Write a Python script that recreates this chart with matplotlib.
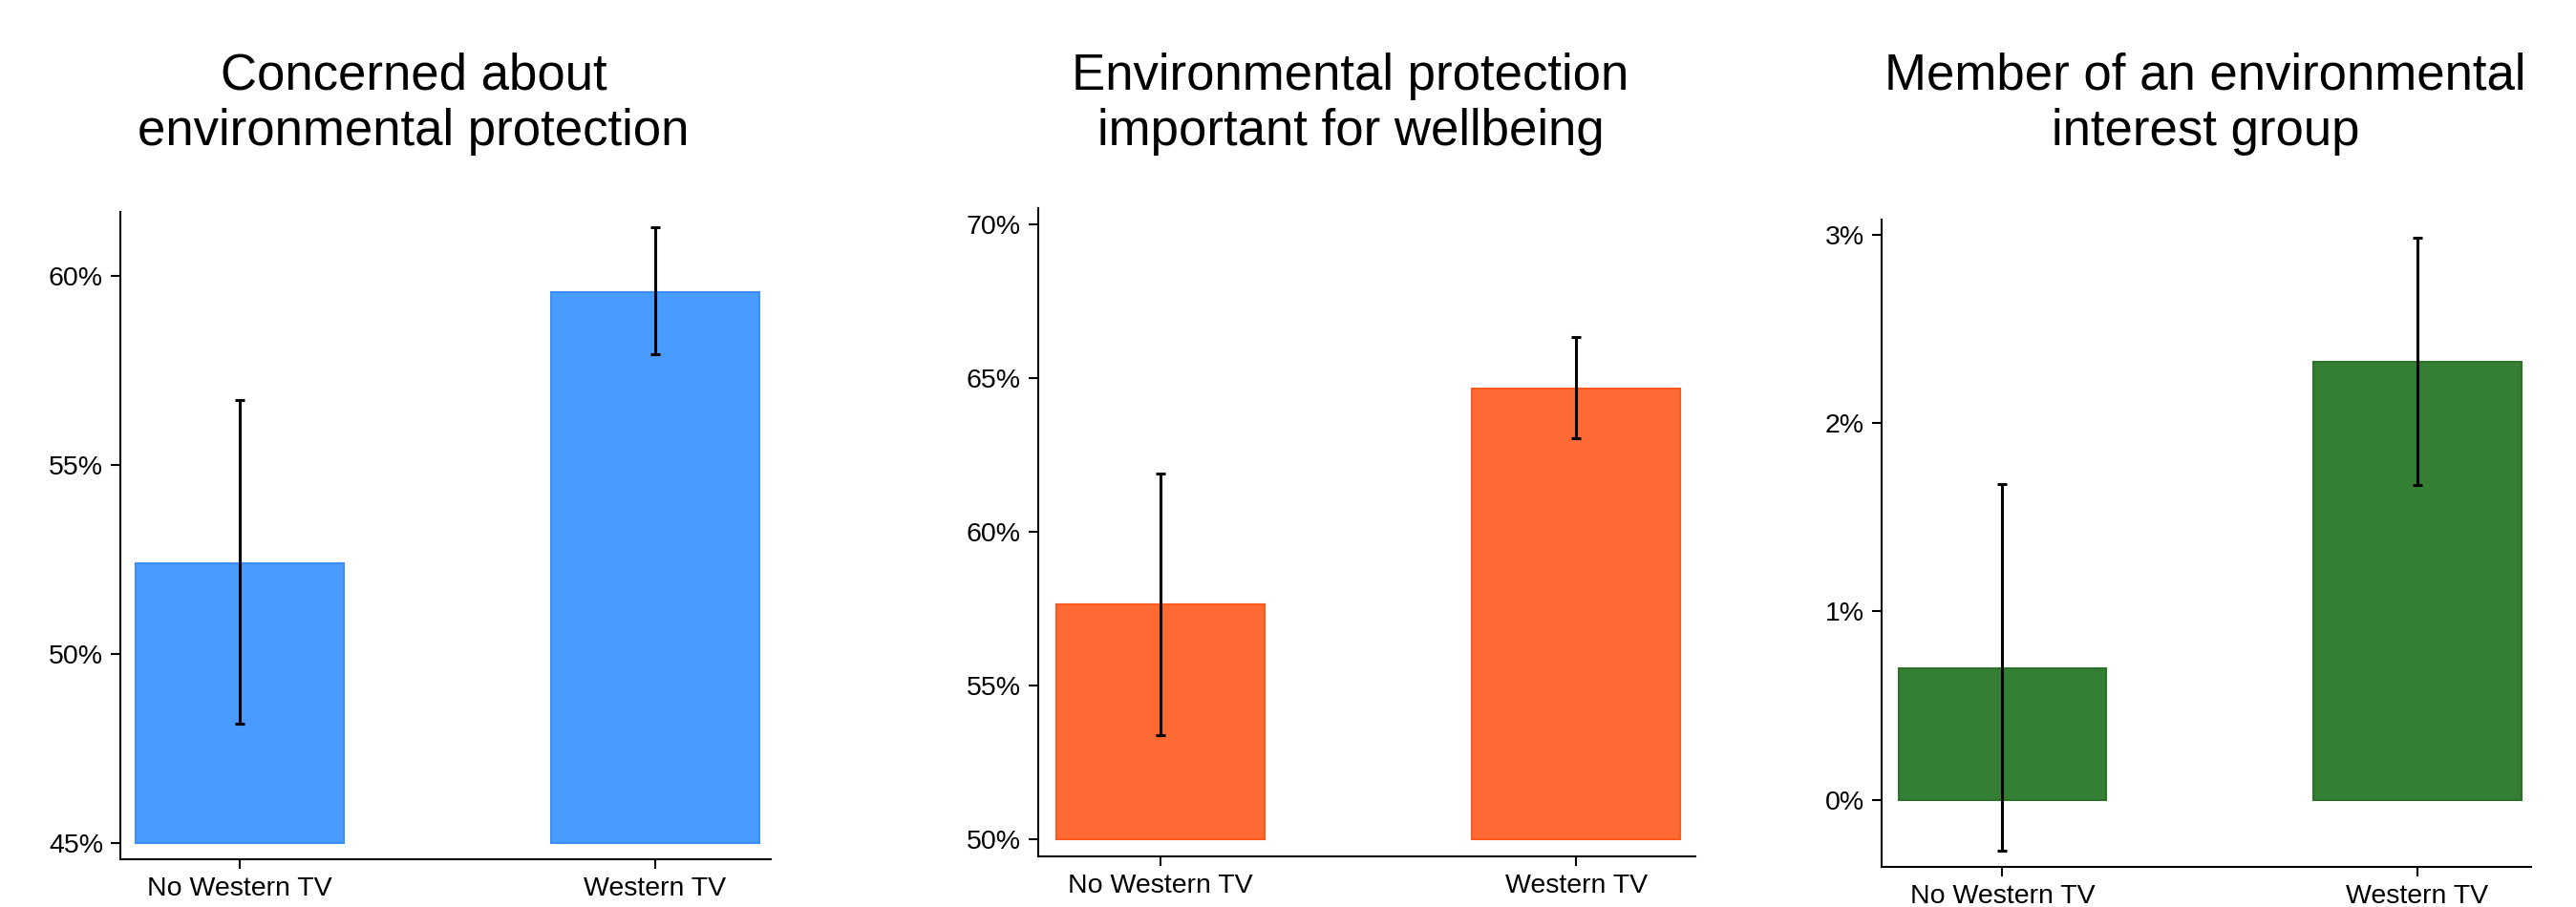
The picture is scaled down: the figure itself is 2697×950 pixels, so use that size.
import matplotlib
matplotlib.use("Agg")
import matplotlib.pyplot as plt
from matplotlib.ticker import FuncFormatter

plt.rcParams['font.family'] = ['Liberation Sans', 'DejaVu Sans']

groups = ["No Western TV", "Western TV"]

titles = [
    "Concerned about\nenvironmental protection",
    "Environmental protection\nimportant for wellbeing",
    "Member of an environmental\ninterest group",
]

# Shares in percent, with lower / upper bounds of the confidence interval
concerned = [52.4, 59.57]
concerned_lo = [48.14, 57.92]
concerned_hi = [56.71, 61.28]

wellbeing = [57.64, 64.66]
wellbeing_lo = [53.39, 63.04]
wellbeing_hi = [61.91, 66.33]

member = [0.70, 2.327]
member_lo = [-0.269, 1.671]
member_hi = [1.676, 2.988]

y_ticks = [
    [45, 50, 55, 60],
    [50, 55, 60, 65, 70],
    [0, 1, 2, 3],
]

panels = [
    dict(vals=concerned, lo=concerned_lo, hi=concerned_hi, base=45,
         fill="#4A9BFE", edge="#3A8EF6", ylim=(44.56, 61.69), xlim=(-0.287, 1.278),
         box=(126, 807, 222, 900), tx=433),
    dict(vals=wellbeing, lo=wellbeing_lo, hi=wellbeing_hi, base=50,
         fill="#FE6A33", edge="#FB5A1C", ylim=(49.45, 70.53), xlim=(-0.294, 1.287),
         box=(1087, 1775, 218, 897), tx=1414),
    dict(vals=member, lo=member_lo, hi=member_hi, base=0,
         fill="#357F34", edge="#2B7228", ylim=(-0.357, 3.082), xlim=(-0.291, 1.274),
         box=(1970, 2650, 230, 908), tx=2309),
]

W, H = 2697, 950
fig = plt.figure(figsize=(W / 100, H / 100), dpi=100)

for p, title, ticks in zip(panels, titles, y_ticks):
    l, r, t, b = p["box"]
    ax = fig.add_axes([l / W, 1 - b / H, (r - l) / W, (b - t) / H])
    x = list(range(len(groups)))
    heights = [v - p["base"] for v in p["vals"]]
    ax.bar(x, heights, bottom=p["base"], width=0.5, color=p["fill"],
           edgecolor=p["edge"], linewidth=1.5, zorder=2)
    yerr = [[v - lo for v, lo in zip(p["vals"], p["lo"])],
            [hi - v for v, hi in zip(p["vals"], p["hi"])]]
    ax.errorbar(x, p["vals"], yerr=yerr, fmt="none", ecolor="black",
                elinewidth=2.2, capsize=3.5, capthick=2.2, zorder=3)
    ax.set_xlim(*p["xlim"])
    ax.set_ylim(*p["ylim"])
    ax.set_xticks(x)
    ax.set_xticklabels(groups)
    ax.set_yticks(ticks)
    ax.yaxis.set_major_formatter(FuncFormatter(lambda v, pos: f"{v:.0f}%"))
    for s in ("top", "right"):
        ax.spines[s].set_visible(False)
    for s in ("left", "bottom"):
        ax.spines[s].set_linewidth(1.5)
    ax.tick_params(axis="both", length=7, width=1.5, labelsize=20.5, pad=6)
    fig.text(p["tx"] / W, 1 - 109 / H, title, ha="center", va="center",
             fontsize=38, linespacing=1.22)

fig.savefig("out.png", dpi=100, facecolor="white")
